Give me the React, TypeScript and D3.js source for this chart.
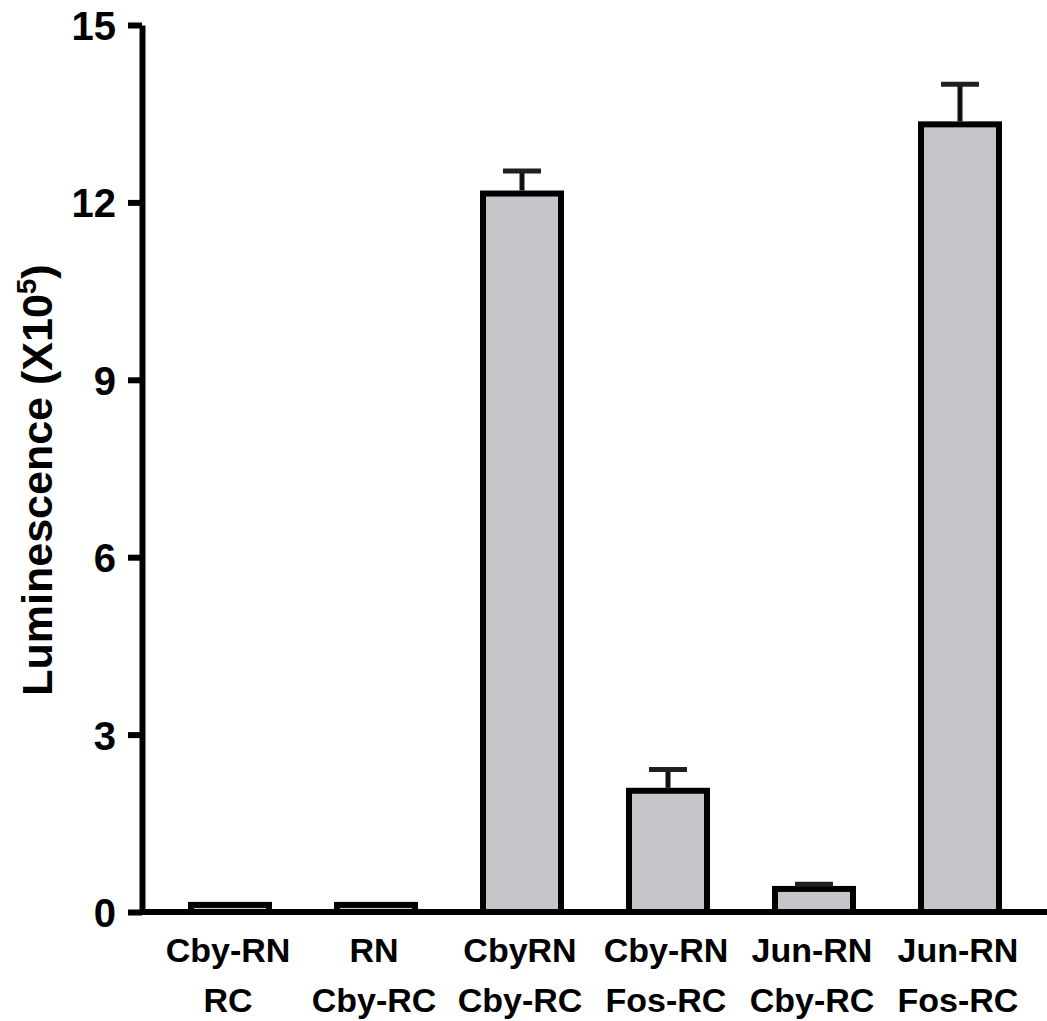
import React, { useEffect, useRef } from 'react';
import * as d3 from 'd3';

// groups, two-line labels
const categories = ['Cby-RN|RC', 'RN|Cby-RC', 'CbyRN|Cby-RC', 'Cby-RN|Fos-RC', 'Jun-RN|Cby-RC', 'Jun-RN|Fos-RC'];
// luminescence (x10^5)
const means = [0.12, 0.12, 12.15, 2.05, 0.39, 13.32];
const errors = [0, 0, 0.38, 0.36, 0.08, 0.68];
const yTicks = [0, 3, 6, 9, 12, 15];

const W = 1047;
const H = 1021;
const FONT = '"Liberation Sans", Arial, Helvetica, sans-serif';

const App = () => {
  const svgRef = useRef(null);

  useEffect(() => {
    const svg = d3.select(svgRef.current);
    svg.selectAll('*').remove();

    const axisX = 142;
    const y = d3.scaleLinear().domain([0, 15]).range([912, 25]);
    const x = d3.scalePoint().domain(categories).range([230, 960]);
    const barW = 78;

    // bars
    const bars = svg.append('g');
    bars.selectAll('rect')
      .data(categories)
      .enter()
      .append('rect')
      .attr('x', (d) => x(d) - barW / 2)
      .attr('y', (d, i) => y(means[i]))
      .attr('width', barW)
      .attr('height', (d, i) => y(0) - y(means[i]))
      .attr('fill', '#c5c6ca')
      .attr('stroke', '#000')
      .attr('stroke-width', 6);

    // error bars (upper only)
    const err = svg.append('g');
    categories.forEach((c, i) => {
      if (!errors[i]) return;
      const top = y(means[i] + errors[i]);
      err.append('line')
        .attr('x1', x(c)).attr('x2', x(c))
        .attr('y1', y(means[i]) - 3).attr('y2', top)
        .attr('stroke', '#111').attr('stroke-width', 5);
      err.append('line')
        .attr('x1', x(c) - 19).attr('x2', x(c) + 19)
        .attr('y1', top).attr('y2', top)
        .attr('stroke', '#231f20').attr('stroke-width', 5);
    });

    // y axis
    const yAxis = svg.append('g')
      .attr('transform', `translate(${axisX},0)`)
      .call(d3.axisLeft(y).tickValues(yTicks).tickSize(14).tickSizeOuter(0).tickPadding(12));
    yAxis.select('.domain').attr('stroke', '#000').attr('stroke-width', 6);
    yAxis.selectAll('.tick line').attr('stroke', '#000').attr('stroke-width', 6);
    yAxis.selectAll('.tick text')
      .attr('font-family', FONT)
      .attr('font-weight', 'bold')
      .attr('font-size', 40)
      .attr('fill', '#000')
      .attr('dy', '0.36em');

    // x axis baseline
    svg.append('line')
      .attr('x1', axisX).attr('x2', W)
      .attr('y1', y(0)).attr('y2', y(0))
      .attr('stroke', '#000').attr('stroke-width', 6);

    // x labels
    const labels = svg.append('g')
      .attr('font-family', FONT)
      .attr('font-weight', 'bold')
      .attr('font-size', 34)
      .attr('text-anchor', 'middle');
    categories.forEach((c) => {
      const parts = c.split('|');
      const t = labels.append('text').attr('x', x(c) - 2);
      t.append('tspan').attr('x', x(c) - 2).attr('y', 962).text(parts[0]);
      t.append('tspan').attr('x', x(c) - 2).attr('y', 1012).text(parts[1]);
    });

    // y title
    const title = svg.append('text')
      .attr('transform', 'translate(52,480) rotate(-90)')
      .attr('text-anchor', 'middle')
      .attr('font-family', FONT)
      .attr('font-weight', 'bold')
      .attr('font-size', 43);
    title.append('tspan').text('Luminescence (X10');
    title.append('tspan').attr('font-size', 28).attr('dy', -16).text('5');
    title.append('tspan').attr('dy', 16).text(')');
  }, []);

  return (
    <svg
      ref={svgRef}
      width={W}
      height={H}
      style={{ position: 'absolute', left: 0, top: 0, background: '#fff' }}
    />
  );
};

export default App;
